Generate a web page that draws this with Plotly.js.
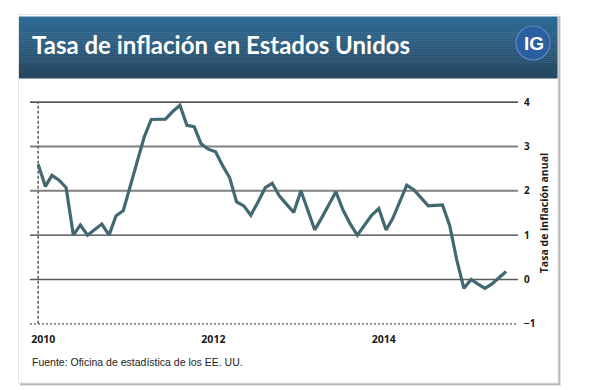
<!DOCTYPE html>
<html><head><meta charset="utf-8">
<script src="https://cdn.plot.ly/plotly-3.0.1.min.js"></script>
<style>html,body{margin:0;padding:0;background:#fff;}#chart{width:590px;height:390px;}</style>
</head><body><div id="chart"></div>
<script>
// ---- data ----
const months = [
 '2010-01','2010-02','2010-03','2010-04','2010-05','2010-06','2010-07','2010-08','2010-09','2010-10','2010-11','2010-12',
 '2011-01','2011-02','2011-03','2011-04','2011-05','2011-06','2011-07','2011-08','2011-09','2011-10','2011-11','2011-12',
 '2012-01','2012-02','2012-03','2012-04','2012-05','2012-06','2012-07','2012-08','2012-09','2012-10','2012-11','2012-12',
 '2013-01','2013-02','2013-03','2013-04','2013-05','2013-06','2013-07','2013-08','2013-09','2013-10','2013-11','2013-12',
 '2014-01','2014-02','2014-03','2014-04','2014-05','2014-06','2014-07','2014-08','2014-09','2014-10','2014-11','2014-12',
 '2015-01','2015-02','2015-03','2015-04','2015-05','2015-06','2015-07'];
const inflation = [
 2.60,2.10,2.35,2.24,2.07,1.00,1.23,1.00,1.13,1.25,1.00,1.44,
 1.55,2.11,2.68,3.22,3.61,3.62,3.62,3.79,3.93,3.48,3.45,3.06,
 2.94,2.88,2.58,2.30,1.75,1.66,1.45,1.75,2.07,2.17,1.88,1.70,
 1.51,2.00,1.58,1.12,1.39,1.69,1.98,1.56,1.25,1.00,1.22,1.45,
 1.60,1.12,1.37,1.75,2.13,2.02,1.85,1.66,1.67,1.68,1.22,0.45,
 -0.20,0.00,-0.10,-0.20,-0.10,0.05,0.18];
const xTickVals = ['2010-01-01','2012-01-01','2014-01-01'];
const xTickText = ['2010','2012','2014'];
const yTickVals = [-1,0,1,2,3,4];
const titleText = 'Tasa de inflación en Estados Unidos';
const yTitleText = 'Tasa de inflación anual';
const sourceText = 'Fuente: Oficina de estadística de los EE. UU.';
const logoText = 'IG';

// ---- layout helpers ----
const W = 590, H = 390, M = {l:30, r:72, t:100, b:64};
const PW = W - M.l - M.r, PH = H - M.t - M.b;
const px = x => (x - M.l) / PW;
const py = y => (H - M.b - y) / PH;

const shapes = [];
// card shadow + card
shapes.push({type:'rect', xref:'paper', yref:'paper', x0:px(20), x1:px(561), y0:py(16), y1:py(386), fillcolor:'#e2e2e2', line:{width:0}, layer:'below'});
shapes.push({type:'rect', xref:'paper', yref:'paper', x0:px(20), x1:px(560), y0:py(16), y1:py(385), fillcolor:'#b9b9b9', line:{width:0}, layer:'below'});
shapes.push({type:'rect', xref:'paper', yref:'paper', x0:px(18.5), x1:px(558), y0:py(14.5), y1:py(383), fillcolor:'#ffffff', line:{color:'#e4e4e4', width:1}, layer:'below'});
// header gradient bands
const cTop = [46,108,150], cBot = [38,70,96];
const nb = 31, hy0 = 16.5, hy1 = 78;
for (let i = 0; i < nb; i++) {
  const t = i / (nb - 1);
  const c = cTop.map((v, k) => Math.round(v + (cBot[k] - v) * t));
  const y0 = hy0 + (hy1 - hy0) * i / nb, y1 = hy0 + (hy1 - hy0) * (i + 1) / nb + 0.5;
  shapes.push({type:'rect', xref:'paper', yref:'paper', x0:px(19), x1:px(557.5), y0:py(y0), y1:py(y1),
    fillcolor:`rgb(${c[0]},${c[1]},${c[2]})`, line:{width:0}, layer:'below'});
}
// logo circle
shapes.push({type:'circle', xref:'paper', yref:'paper', x0:px(516), x1:px(550), y0:py(26), y1:py(60), fillcolor:'#2c5f9f', line:{color:'#5b88c2', width:1.2}, layer:'below'});

// gridlines
const gridStyle = {
  '4': {color:'#1a1a1a', width:1.3},
  '3': {color:'#808080', width:2},
  '2': {color:'#808080', width:2},
  '1': {color:'#3c3c3c', width:1.4},
  '0': {color:'#5a5a5a', width:1.4},
  '-1': {color:'#555555', width:1.2, dash:'2px,2px'}
};
yTickVals.forEach(v => {
  shapes.push({type:'line', xref:'paper', yref:'y', x0:0, x1:1, y0:v, y1:v, line:gridStyle[String(v)], layer:'below'});
});
// vertical dotted line at first year
shapes.push({type:'line', xref:'x', yref:'y', x0:xTickVals[0], x1:xTickVals[0], y0:yTickVals[0], y1:yTickVals[yTickVals.length-1],
  line:{color:'#666666', width:1.6, dash:'3px,2px'}, layer:'below'});

const annotations = [
  {text:sourceText, xref:'paper', yref:'paper', x:0, y:py(362), xanchor:'left', yanchor:'middle', showarrow:false,
   font:{family:'Liberation Sans, Arial', size:10.5, color:'#222'}},
  {text:logoText, xref:'paper', yref:'paper', x:px(533.5), y:py(43.5), xanchor:'center', yanchor:'middle', showarrow:false,
   font:{family:'Liberation Sans, Arial', size:19, color:'#ffffff', weight:'bold'}}
];

const trace = {
  type:'scatter', mode:'lines', x:months, y:inflation,
  line:{color:'#426872', width:3.2}, hoverinfo:'skip', cliponaxis:false
};

const layout = {
  width:W, height:H, margin:M,
  paper_bgcolor:'#ffffff', plot_bgcolor:'rgba(0,0,0,0)',
  showlegend:false,
  title:{text:titleText, xref:'container', yref:'container', x:32/W, xanchor:'left', y:1-46/H, yanchor:'middle',
    font:{family:'Lato', size:24, color:'#ffffff', weight:'bold'}},
  xaxis:{type:'date', range:['2009-11-27','2015-08-21'], tickvals:xTickVals, ticktext:xTickText,
    ticks:'outside', ticklen:3, tickcolor:'rgba(0,0,0,0)', showgrid:false, zeroline:false, showline:false,
    ticklabelshift:5, tickfont:{family:'Open Sans', size:10.5, color:'#1a1a1a', weight:'bold'}, fixedrange:true},
  yaxis:{range:[-1.05,4.05], side:'right', tickvals:yTickVals, ticks:'', showgrid:false, zeroline:false, showline:false,
    ticklabelstandoff:5, tickfont:{family:'Open Sans', size:10, color:'#1a1a1a', weight:'bold'},
    title:{text:yTitleText, standoff:6, font:{family:'Open Sans', size:10.5, color:'#1a1a1a', weight:'bold'}}, fixedrange:true},
  shapes:shapes, annotations:annotations
};

Plotly.newPlot('chart', [trace], layout, {staticPlot:true, displayModeBar:false});
</script>
</body></html>
